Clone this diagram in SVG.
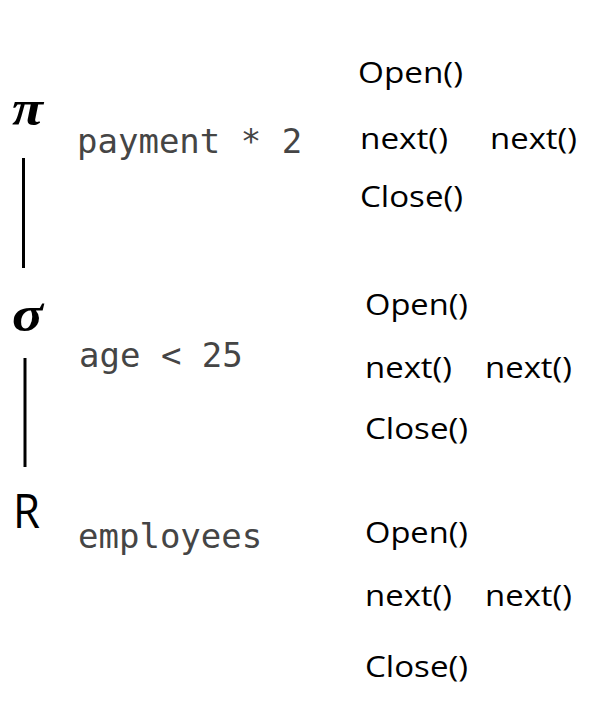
<svg xmlns="http://www.w3.org/2000/svg" width="596" height="706" viewBox="0 0 596 706">
<style>
.op{font-family:"Liberation Serif","DejaVu Serif",serif;font-weight:bold;font-style:italic;font-size:50px;fill:#000}
.rel{font-family:"Open Sans","Liberation Sans",Arial,sans-serif;font-size:47px;fill:#000}
.code{font-family:"DejaVu Sans Mono","Liberation Mono",monospace;font-size:34px;fill:#454545}
.call{font-family:"Open Sans","Liberation Sans",Arial,sans-serif;font-size:29px;fill:#000}
.edge{stroke:#000;stroke-width:3;fill:none}
</style>
<rect width="596" height="706" fill="#fff"/>
<g id="connectors">
<line class="edge" x1="23.5" y1="158" x2="23.5" y2="268"/>
<line class="edge" x1="25" y1="358" x2="25" y2="467"/>
</g>
<g id="node-pi">
<text class="op" x="12" y="125" textLength="31" lengthAdjust="spacingAndGlyphs">π</text>
<text class="code" x="77" y="153">payment * 2</text>
<text class="call" x="358" y="83" textLength="105" lengthAdjust="spacingAndGlyphs">Open()</text>
<text class="call" x="360" y="149" textLength="88" lengthAdjust="spacingAndGlyphs">next()</text>
<text class="call" x="490" y="149" textLength="87" lengthAdjust="spacingAndGlyphs">next()</text>
<text class="call" x="360" y="207" textLength="103" lengthAdjust="spacingAndGlyphs">Close()</text>
</g>
<g id="node-sigma">
<text class="op" x="12" y="331" textLength="31" lengthAdjust="spacingAndGlyphs">σ</text>
<text class="code" x="79" y="367">age &lt; 25</text>
<text class="call" x="365" y="315" textLength="103" lengthAdjust="spacingAndGlyphs">Open()</text>
<text class="call" x="365" y="378" textLength="87" lengthAdjust="spacingAndGlyphs">next()</text>
<text class="call" x="485" y="378" textLength="87" lengthAdjust="spacingAndGlyphs">next()</text>
<text class="call" x="365" y="439" textLength="103" lengthAdjust="spacingAndGlyphs">Close()</text>
</g>
<g id="node-R">
<text class="rel" x="13" y="528" textLength="27" lengthAdjust="spacingAndGlyphs">R</text>
<text class="code" x="78" y="548">employees</text>
<text class="call" x="365" y="543" textLength="103" lengthAdjust="spacingAndGlyphs">Open()</text>
<text class="call" x="365" y="606" textLength="87" lengthAdjust="spacingAndGlyphs">next()</text>
<text class="call" x="485" y="606" textLength="87" lengthAdjust="spacingAndGlyphs">next()</text>
<text class="call" x="365" y="677" textLength="103" lengthAdjust="spacingAndGlyphs">Close()</text>
</g>
</svg>
